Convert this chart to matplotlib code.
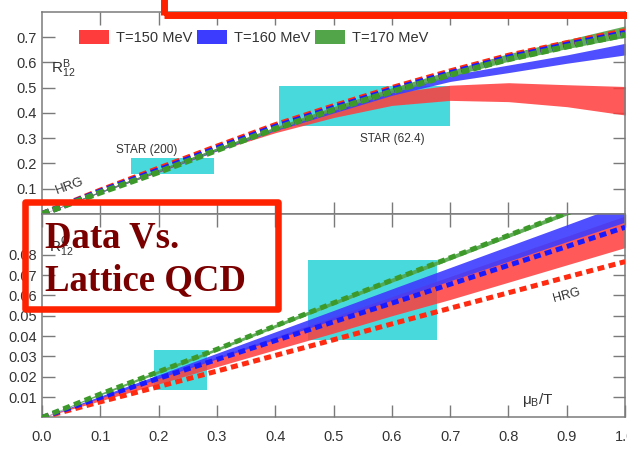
import numpy as np
import matplotlib
matplotlib.use("Agg")
import matplotlib.pyplot as plt
from matplotlib.patches import Rectangle, Patch

plt.rcParams['font.family'] = ['Liberation Sans', 'DejaVu Sans']
plt.rcParams['mathtext.default'] = 'regular'

# mu_B/T grid
mu = [0.0, 0.1, 0.2, 0.3, 0.4, 0.5, 0.6, 0.7, 0.8, 0.9, 1.0]

# top panel: R12^B
r12b_red_lo = [0, 0.085, 0.165, 0.250, 0.322, 0.382, 0.430, 0.450, 0.445, 0.425, 0.392]
r12b_red_hi = [0, 0.090, 0.175, 0.260, 0.342, 0.420, 0.480, 0.510, 0.520, 0.512, 0.505]
r12b_blue_lo = [0, 0.085, 0.167, 0.250, 0.330, 0.400, 0.470, 0.525, 0.560, 0.597, 0.630]
r12b_blue_hi = [0, 0.090, 0.175, 0.260, 0.342, 0.415, 0.490, 0.550, 0.590, 0.630, 0.676]
r12b_green_lo = [0, 0.086, 0.168, 0.252, 0.333, 0.410, 0.480, 0.545, 0.605, 0.655, 0.700]
r12b_green_hi = [0, 0.090, 0.176, 0.262, 0.345, 0.425, 0.500, 0.568, 0.635, 0.690, 0.745]
r12b_hrg_red = [0, 0.093, 0.180, 0.267, 0.352, 0.427, 0.499, 0.565, 0.627, 0.677, 0.724]
r12b_hrg_blue = [0, 0.089, 0.173, 0.260, 0.345, 0.420, 0.492, 0.558, 0.620, 0.670, 0.717]
r12b_hrg_green = [0, 0.085, 0.166, 0.253, 0.338, 0.413, 0.485, 0.551, 0.613, 0.663, 0.710]

# bottom panel: R12^Q
r12q_red_lo = [0, 0.0082, 0.0165, 0.0250, 0.0333, 0.0415, 0.0500, 0.0580, 0.0665, 0.0750, 0.0835]
r12q_red_hi = [0, 0.0099, 0.0198, 0.0297, 0.0396, 0.0495, 0.0594, 0.0693, 0.0792, 0.0891, 0.0990]
r12q_blue_lo = [0, 0.0096, 0.0192, 0.0288, 0.0384, 0.0480, 0.0576, 0.0672, 0.0768, 0.0864, 0.0960]
r12q_blue_hi = [0, 0.0105, 0.0210, 0.0316, 0.0421, 0.0526, 0.0632, 0.0737, 0.0842, 0.0947, 0.1053]
r12q_green_lo = [0, 0.0110, 0.0218, 0.0328, 0.0442, 0.0554, 0.0665, 0.0775, 0.0885, 0.0995, 0.1100]
r12q_green_hi = [0, 0.0119, 0.0232, 0.0342, 0.0458, 0.0572, 0.0685, 0.0795, 0.0905, 0.1015, 0.1120]
r12q_dash_green = [0, 0.0115, 0.0225, 0.0335, 0.0450, 0.0563, 0.0675, 0.0785, 0.0895, 0.1005, 0.1110]
r12q_dash_blue = [0, 0.0098, 0.0192, 0.0285, 0.0378, 0.0470, 0.0562, 0.0655, 0.0748, 0.0840, 0.0935]
r12q_dash_red = [0, 0.0077, 0.0152, 0.0228, 0.0305, 0.0382, 0.0460, 0.0537, 0.0613, 0.0690, 0.0766]

# STAR data boxes: (mu_lo, mu_hi, r_lo, r_hi)
star_b = {'STAR (200)': (0.152, 0.295, 0.160, 0.220),
          'STAR (62.4)': (0.407, 0.700, 0.350, 0.507)}
star_q = [(0.192, 0.283, 0.0136, 0.0330),
          (0.456, 0.677, 0.0380, 0.0773)]

legend_labels = ['T=150 MeV', 'T=160 MeV', 'T=170 MeV']

RED, BLUE, GREEN = '#ff3c3c', '#3c3cff', '#52a548'
DRED, DBLUE, DGREEN = '#ff2a10', '#1a1aff', '#3d9a2a'
CYAN = '#48d9dd'
AXC = '#7a7a7a'
TXT = '#333333'

fig = plt.figure(figsize=(6.27, 4.51), dpi=100)
ax1 = fig.add_axes([0.067, 0.5255, 0.930, 0.4479])
ax2 = fig.add_axes([0.067, 0.0743, 0.930, 0.4512])


def style(ax, yticks):
    ax.set_xlim(0, 1)
    ax.set_xticks([0.1, 0.2, 0.3, 0.4, 0.5, 0.6, 0.7, 0.8, 0.9])
    ax.set_yticks(yticks)
    ax.tick_params(direction='in', length=9, width=1, color=AXC,
                   top=True, right=True, labelsize=10.5, labelcolor=TXT)
    ax.tick_params(axis='y', pad=3.5)
    for s in ax.spines.values():
        s.set_color(AXC)
        s.set_linewidth(1.1)


# ---- top panel
ax1.set_ylim(0, 0.8)
for lab, (x0, x1, y0, y1) in star_b.items():
    ax1.add_patch(Rectangle((x0, y0), x1 - x0, y1 - y0, color=CYAN, lw=0, zorder=1))
ax1.fill_between(mu, r12b_red_lo, r12b_red_hi, color=RED, alpha=0.85, lw=0, zorder=2)
ax1.fill_between(mu, r12b_blue_lo, r12b_blue_hi, color=BLUE, alpha=0.9, lw=0, zorder=2)
ax1.fill_between(mu, r12b_green_lo, r12b_green_hi, color=GREEN, alpha=0.9, lw=0, zorder=2)
for y, c in [(r12b_hrg_red, DRED), (r12b_hrg_blue, DBLUE), (r12b_hrg_green, DGREEN)]:
    ax1.plot(mu, y, color=c, lw=4.2, dashes=(1.3, 0.7), zorder=3)
style(ax1, [0.1, 0.2, 0.3, 0.4, 0.5, 0.6, 0.7])
ax1.tick_params(axis='x', labelbottom=False)
ax1.text(0.18, 0.253, 'STAR (200)', fontsize=8.5, color=TXT, ha='center', va='center')
ax1.text(0.60, 0.297, 'STAR (62.4)', fontsize=8.5, color=TXT, ha='center', va='center')
ax1.text(0.048, 0.112, 'HRG', fontsize=9.5, color=TXT, ha='center', va='center', rotation=20)
ax1.text(0.015, 0.575, r'R$^{B}_{12}$', fontsize=11, color=TXT, ha='left', va='center')
handles = [Patch(color=c, lw=0) for c in (RED, BLUE, GREEN)]
ax1.legend(handles, legend_labels, ncol=3, loc='center left', bbox_to_anchor=(0.063, 0.876),
           frameon=False, fontsize=10.5, handlelength=2.1, handleheight=1.1,
           handletextpad=0.45, columnspacing=0.3, borderpad=0, borderaxespad=0,
           labelcolor=TXT)

# ---- bottom panel
ax2.set_ylim(0, 0.1)
for (x0, x1, y0, y1) in star_q:
    ax2.add_patch(Rectangle((x0, y0), x1 - x0, y1 - y0, color=CYAN, lw=0, zorder=1))
ax2.fill_between(mu, r12q_red_lo, r12q_red_hi, color=RED, alpha=0.85, lw=0, zorder=2)
ax2.fill_between(mu, r12q_blue_lo, r12q_blue_hi, color=BLUE, alpha=0.9, lw=0, zorder=2)
ax2.fill_between(mu, r12q_green_lo, r12q_green_hi, color=GREEN, alpha=0.9, lw=0, zorder=2)
for y, c in [(r12q_dash_red, DRED), (r12q_dash_blue, DBLUE), (r12q_dash_green, DGREEN)]:
    ax2.plot(mu, y, color=c, lw=3.6, dashes=(1.4, 0.9), zorder=3)
style(ax2, [0.01, 0.02, 0.03, 0.04, 0.05, 0.06, 0.07, 0.08])
ax2.tick_params(axis='x', pad=9)
ax2.set_xticks([0.0, 0.1, 0.2, 0.3, 0.4, 0.5, 0.6, 0.7, 0.8, 0.9, 1.0])
ax2.set_xticklabels(['0.0', '0.1', '0.2', '0.3', '0.4', '0.5', '0.6', '0.7', '0.8', '0.9', '1.0'])
ax2.text(0.90, 0.060, 'HRG', fontsize=9, color=TXT, ha='center', va='center', rotation=15)
ax2.text(0.85, 0.0087, r'$\mu_{B}$/T', fontsize=11, color=TXT, ha='center', va='center')
ax2.text(0.012, 0.084, r'R$^{Q}_{12}$', fontsize=11, color=TXT, ha='left', va='center')

# slide overlays
fig.add_artist(Rectangle((0.0399, 0.3149), 0.4027, 0.2379, transform=fig.transFigure,
                         fill=False, ec='#ff2200', lw=4.7, joinstyle='round', zorder=10))
fig.add_artist(Rectangle((0.2608, 0.966), 0.8, 0.2, transform=fig.transFigure,
                         fill=False, ec='#ff2200', lw=5, joinstyle='round', zorder=10))
fig.text(45 / 627, 0.4523, 'Data Vs.', family='Liberation Serif', weight='bold',
         fontsize=26.5, color='#7a0000', va='baseline', ha='left', zorder=11)
fig.text(45 / 627, 0.357, 'Lattice QCD', family='Liberation Serif', weight='bold',
         fontsize=26.5, color='#7a0000', va='baseline', ha='left', zorder=11)

fig.savefig('out.png', dpi=100)
